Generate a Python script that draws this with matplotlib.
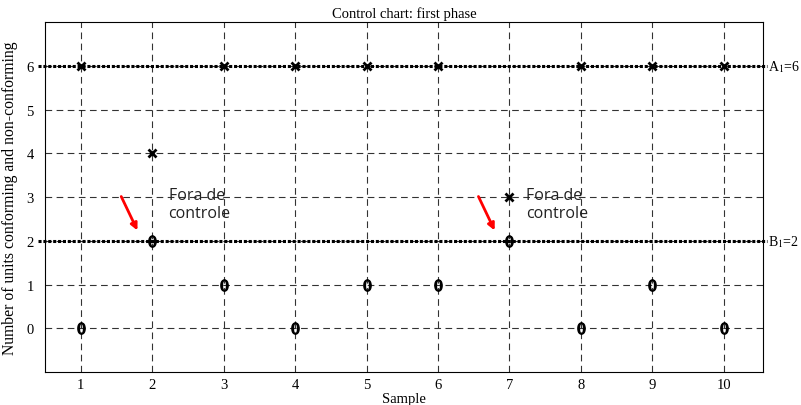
import matplotlib
matplotlib.use("Agg")
import matplotlib.pyplot as plt

plt.rcParams["mathtext.fontset"] = "stix"

samples = [1, 2, 3, 4, 5, 6, 7, 8, 9, 10]
conforming = [6, 4, 6, 6, 6, 6, 3, 6, 6, 6]
nonconforming = [0, 2, 1, 0, 1, 1, 2, 0, 1, 0]
A1 = 6
B1 = 2
title = "Control chart: first phase"
xlabel = "Sample"
ylabel = "Number of units conforming and non-conforming"
note = "Fora de\ncontrole"
out_samples = [2, 7]

serif = ["Liberation Serif", "DejaVu Serif"]

fig = plt.figure(figsize=(8.01, 4.06), dpi=100)
ax = fig.add_axes([0.0562, 0.0813, 0.8964, 0.8617])

ax.set_xlim(0.5, 10.55)
ax.set_ylim(-1, 7)
ax.set_xticks(samples)
ax.set_yticks(range(0, 7))
ax.grid(True, color="black", linestyle=(0, (6, 4)), linewidth=0.8, alpha=0.8)
ax.set_axisbelow(True)

for lvl in (A1, B1):
    ax.plot([-0.01, 1.005], [(lvl + 1) / 8] * 2, transform=ax.transAxes,
            color="black", linestyle=(0, (1, 0.6)), linewidth=2.2, zorder=2,
            clip_on=False)

ax.plot(samples, conforming, linestyle="none", marker="x", markersize=6,
        markeredgewidth=2, color="black", zorder=3)
ax.plot(samples, nonconforming, linestyle="none", marker="$0$", markersize=8,
        color="black", zorder=3)

ax.text(1.007, (A1 + 1) / 8, "A$_1$=6", transform=ax.transAxes, va="center",
        ha="left", fontsize=10, family=serif)
ax.text(1.007, (B1 + 1) / 8, "B$_1$=2", transform=ax.transAxes, va="center",
        ha="left", fontsize=10, family=serif)

for s in out_samples:
    ax.annotate("", xy=(s - 0.19, B1 + 0.18), xytext=(s - 0.45, B1 + 1.07),
                arrowprops=dict(arrowstyle="-|>", color="red", lw=2,
                                mutation_scale=10))
    ax.text(s + 0.23, 3.22, note, ha="left", va="top", fontsize=11.5,
            family=["Open Sans", "DejaVu Sans"], color="#222222", linespacing=1.15)

ax.set_title(title, fontsize=10.5, family=serif, pad=4)
ax.set_xlabel(xlabel, fontsize=10.5, family=serif, labelpad=1)
ax.set_ylabel(ylabel, fontsize=11.3, family=serif, labelpad=6)
for lab in ax.get_xticklabels() + ax.get_yticklabels():
    lab.set_family(serif)
    lab.set_fontsize(10.5)
ax.tick_params(axis="x", length=0, pad=4)
ax.tick_params(axis="y", length=0, pad=8)

fig.savefig("out.png", dpi=100)
